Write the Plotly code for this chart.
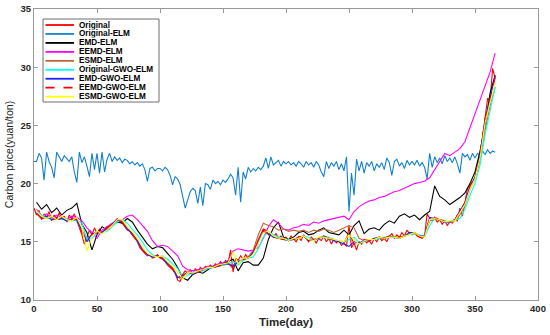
import plotly.graph_objects as go

# ---------------- data ----------------
days_2 = list(range(0, 368, 2))      # every 2nd day, 0..366
days_4 = list(range(2, 368, 4))      # every 4th day, 2..366

original = [
    17.9, 17.3, 17.7, 16.9, 17.4, 17.1, 17.6, 16.8, 17.3, 17.0,
    17.5, 16.9, 17.2, 16.7, 17.3, 17.0, 17.4, 16.8, 16.2, 15.6,
    14.8, 15.4, 16.0, 15.6, 16.2, 15.7, 16.1, 15.8, 16.0, 16.3,
    16.1, 16.5, 16.8, 17.0, 16.7, 16.6, 16.3, 16.0, 15.9, 15.6,
    15.2, 15.0, 14.5, 14.2, 14.0, 13.8, 13.9, 13.6, 13.7, 13.9,
    13.6, 13.5, 13.3, 13.0, 12.8, 12.6, 12.3, 11.7, 11.6, 12.2,
    12.5, 12.3, 12.6, 12.2, 12.7, 12.4, 12.8, 12.6, 12.9, 12.7,
    13.0, 12.8, 13.1, 12.9, 13.3, 13.0, 13.4, 13.1, 14.3, 12.4,
    13.6, 13.4, 13.8, 13.5, 13.9, 13.6, 13.8, 14.2, 14.6, 15.2,
    15.7, 16.1, 16.0, 15.6, 15.8, 15.4, 15.7, 15.3, 15.5, 15.2,
    15.4, 15.1, 15.5, 15.2, 15.0, 15.4, 15.1, 15.6, 15.3, 15.0,
    15.4, 15.2, 14.9, 15.3, 15.1, 15.5, 15.0, 15.3, 14.8, 15.2,
    14.9, 15.1, 14.7, 14.9, 14.6, 16.4, 14.5, 14.9, 14.3, 15.0,
    14.8, 15.2, 14.9, 15.1, 14.8, 15.3, 15.0, 15.4, 15.1, 15.3,
    15.0, 15.5, 15.7, 15.3, 15.6, 15.4, 15.8, 15.5, 16.0, 15.7,
    15.6, 15.8, 15.5, 15.4, 15.3, 15.5, 17.4, 17.0, 16.8, 17.1,
    16.7, 16.9, 16.5, 16.8, 16.4, 16.7, 16.6, 16.9, 16.8, 17.9,
    17.2, 18.3, 19.6, 19.9, 20.1, 20.6, 21.5, 22.6, 24.0, 25.8,
    27.3, 27.2, 29.9, 29.0,
]

original_elm = [
    21.9, 21.9, 22.6, 22.2, 20.3, 22.7, 21.9, 21.4, 20.5, 22.7,
    22.3, 21.9, 22.4, 22.1, 21.9, 22.3, 21.0, 20.1, 22.7, 21.8,
    22.3, 21.5, 20.6, 22.6, 21.2, 22.6, 20.9, 22.7, 21.0, 22.1,
    22.6, 21.9, 22.3, 22.0, 22.2, 21.8, 22.1, 22.0, 21.7, 21.9,
    21.6, 21.8, 21.5, 21.7, 21.2, 20.2, 21.3, 21.4, 21.1, 21.3,
    21.3, 21.1, 21.4, 21.2, 20.7, 19.9, 20.6, 20.4, 19.9, 18.9,
    17.9, 18.6, 19.3, 19.6, 19.4, 18.3, 19.7, 18.1, 20.0, 19.9,
    19.5, 20.3, 20.0, 20.2, 19.9, 20.3, 20.1, 20.4, 20.8, 20.5,
    19.0, 21.4, 18.4, 21.0, 20.4, 21.4, 21.0, 21.3, 21.1, 21.4,
    21.2, 21.5, 22.2, 21.3, 22.3, 21.6, 21.8, 22.0, 21.5, 21.9,
    21.7, 21.9, 21.6, 21.8, 21.5, 21.9, 21.7, 21.4, 21.9, 21.6,
    21.8, 21.4, 21.9, 21.6, 21.0, 20.6, 21.9, 21.3, 21.8, 21.5,
    21.9, 21.2, 21.7, 21.1, 22.3, 17.6, 20.9, 19.0, 22.1, 21.1,
    21.9, 20.9, 21.8, 21.5, 21.9, 21.1, 21.7, 21.4, 21.8, 21.2,
    22.2, 21.8, 20.7, 21.9, 22.1, 21.5, 21.8, 21.3, 22.0, 21.6,
    21.9, 21.6, 22.0, 21.5, 21.8, 21.4, 20.4, 22.6, 21.4, 22.3,
    21.8, 22.2, 21.7, 22.4, 21.9, 22.2, 21.8, 22.3, 21.7, 20.9,
    22.6, 22.3, 22.5, 22.0, 22.6, 22.2, 22.6, 22.4, 22.8, 22.5,
    22.9, 22.6, 22.8, 22.7,
]

emd_elm = [
    18.4, 17.8, 18.2, 17.5, 17.9, 17.3, 17.7, 17.9, 18.3, 16.5,
    15.8, 14.3, 15.6, 16.3, 16.0, 16.4, 16.7, 16.6, 17.0, 16.7,
    16.0, 15.4, 14.8, 14.4, 14.6, 14.5, 14.0, 13.5, 12.8, 11.9,
    11.7, 12.2, 12.4, 12.3, 12.6, 12.9, 13.0, 13.1, 13.3, 13.5,
    12.5, 13.2, 13.3, 13.0, 13.0, 13.6, 15.2, 16.2, 16.7, 15.4,
    15.2, 15.4, 15.8, 15.9, 15.6, 15.7, 16.0, 16.2, 15.8, 15.7,
    15.6, 16.0, 15.6, 16.4, 16.8, 15.7, 16.1, 16.2, 16.0, 16.5,
    16.8, 16.6, 17.2, 17.4, 17.1, 17.3, 16.9, 17.3, 17.6, 19.8,
    18.9, 18.6, 18.2, 18.5, 18.8, 19.2, 20.0, 21.0, 22.8, 25.0,
    27.8, 29.3,
]

eemd_elm = [
    17.8, 17.2, 17.4, 17.0, 17.3, 17.1, 16.9, 17.2, 17.1, 16.8,
    16.2, 15.8, 15.3, 16.0, 16.3, 16.6, 16.8, 16.9, 17.2, 17.3,
    16.9, 16.4, 15.9, 15.1, 14.6, 14.7, 14.6, 14.2, 13.8, 12.9,
    12.6, 12.5, 12.6, 12.7, 12.9, 12.9, 13.1, 13.2, 13.4, 14.2,
    14.4, 14.3, 14.2, 14.3, 14.5, 15.3, 16.3, 16.9, 16.6, 16.1,
    16.0, 16.2, 16.3, 16.5, 16.4, 16.7, 16.6, 16.8, 16.9, 17.0,
    17.1, 17.2, 16.9, 17.6, 18.0, 18.3, 18.5, 18.6, 18.8, 18.9,
    19.1, 19.3, 19.4, 19.6, 19.8, 20.0, 20.1, 20.2, 20.5, 21.2,
    21.9, 22.6, 22.4, 22.7, 23.0, 23.6, 24.8, 26.0, 27.2, 28.3,
    29.6, 31.2,
]

esmd_elm = [
    17.5, 17.1, 17.0, 17.0, 16.9, 17.0, 16.8, 16.9, 16.9, 16.0,
    15.2, 15.6, 15.9, 15.8, 16.1, 16.4, 16.9, 16.8, 16.2, 15.7,
    15.1, 14.4, 13.9, 13.7, 13.8, 13.6, 13.2, 12.8, 12.0, 12.0,
    12.4, 12.3, 12.4, 12.6, 12.7, 12.8, 13.0, 13.0, 13.1, 13.0,
    13.2, 13.5, 13.7, 14.3, 15.6, 16.6, 16.4, 16.3, 16.0, 16.1,
    15.9, 16.0, 15.9, 16.0, 15.8, 16.0, 15.9, 16.1, 16.0, 15.8,
    16.0, 16.2, 16.4, 16.2, 15.3, 15.1, 15.2, 15.2, 15.4, 15.3,
    15.4, 15.4, 15.4, 15.5, 15.7, 15.7, 15.5, 15.5, 16.8, 16.9,
    16.9, 16.7, 16.7, 16.8, 17.3, 18.1, 19.5, 20.4, 22.0, 24.6,
    26.7, 28.3,
]

original_gwo_elm = [
    17.7, 17.3, 17.1, 17.0, 17.1, 16.9, 17.0, 16.8, 16.9, 16.6,
    15.2, 15.3, 15.8, 15.8, 15.9, 16.3, 16.7, 16.9, 16.6, 16.1,
    15.6, 15.0, 14.3, 13.9, 13.7, 13.8, 13.5, 13.1, 12.7, 12.0,
    12.1, 12.4, 12.4, 12.5, 12.7, 12.8, 12.9, 13.0, 13.1, 13.3,
    13.0, 13.4, 13.6, 13.7, 14.4, 15.4, 15.9, 15.6, 15.4, 15.3,
    15.2, 15.2, 15.3, 15.5, 15.4, 15.1, 15.3, 15.4, 15.4, 15.2,
    15.1, 15.0, 15.2, 15.4, 14.9, 15.0, 15.2, 15.2, 15.3, 15.4,
    15.4, 15.4, 15.3, 15.5, 15.6, 15.7, 15.6, 15.4, 16.4, 17.0,
    16.9, 16.8, 16.7, 16.8, 17.0, 17.8, 19.0, 20.0, 21.6, 24.2,
    26.4, 28.3,
]

emd_gwo_elm = [
    17.5, 17.0, 17.2, 16.9, 17.0, 17.0, 16.8, 16.9, 16.9, 15.9,
    15.0, 15.7, 15.8, 15.8, 16.2, 16.5, 16.9, 16.7, 16.1, 15.7,
    15.1, 14.3, 13.9, 13.7, 13.8, 13.6, 13.1, 12.7, 11.9, 12.1,
    12.4, 12.2, 12.4, 12.6, 12.8, 12.8, 12.9, 13.1, 13.1, 12.9,
    13.3, 13.5, 13.6, 14.1, 15.0, 15.9, 15.7, 15.4, 15.3, 15.2,
    15.1, 15.2, 15.4, 15.5, 15.1, 15.2, 15.3, 15.5, 15.3, 15.1,
    15.0, 14.8, 14.6, 15.0, 14.9, 15.1, 15.1, 15.3, 15.4, 15.3,
    15.5, 15.4, 15.3, 15.5, 15.8, 15.8, 15.5, 15.5, 17.1, 17.0,
    16.9, 16.7, 16.7, 16.9, 17.6, 18.4, 19.8, 20.5, 22.4, 25.5,
    27.3, 29.3,
]

eemd_gwo_elm = [
    17.4, 17.0, 17.0, 16.9, 17.1, 16.8, 16.8, 17.0, 16.9, 15.8,
    15.2, 15.6, 15.8, 15.7, 16.2, 16.5, 17.0, 16.7, 16.1, 15.6,
    15.1, 14.3, 13.8, 13.7, 13.8, 13.6, 13.1, 12.7, 11.8, 12.1,
    12.3, 12.3, 12.4, 12.6, 12.7, 12.8, 12.9, 13.0, 13.2, 12.7,
    13.3, 13.5, 13.6, 14.1, 15.1, 16.0, 15.7, 15.4, 15.3, 15.2,
    15.1, 15.2, 15.4, 15.5, 15.1, 15.2, 15.3, 15.5, 15.3, 15.2,
    15.1, 14.9, 15.8, 14.8, 15.0, 15.2, 15.1, 15.3, 15.4, 15.3,
    15.5, 15.3, 15.4, 15.5, 15.7, 15.8, 15.4, 15.5, 17.0, 17.1,
    16.9, 16.8, 16.7, 16.9, 17.7, 18.3, 19.8, 20.6, 22.5, 25.6,
    27.2, 29.1,
]

esmd_gwo_elm = [
    17.6, 17.2, 17.0, 17.2, 16.9, 17.2, 16.9, 16.8, 17.1, 16.2,
    14.2, 15.5, 15.9, 15.7, 16.0, 16.4, 16.9, 16.9, 16.3, 15.9,
    15.3, 14.6, 14.0, 13.8, 13.7, 13.8, 13.3, 12.9, 12.4, 11.8,
    12.4, 12.3, 12.5, 12.6, 12.8, 12.8, 13.0, 13.1, 13.2, 14.1,
    13.1, 13.6, 13.6, 13.9, 14.8, 15.8, 15.9, 15.5, 15.3, 15.3,
    15.1, 15.3, 15.3, 15.5, 15.2, 15.1, 15.4, 15.4, 15.3, 15.2,
    15.1, 15.0, 15.6, 15.2, 14.8, 15.1, 15.2, 15.2, 15.4, 15.3,
    15.4, 15.4, 15.3, 15.5, 15.6, 15.8, 15.5, 15.4, 16.9, 17.0,
    16.9, 16.7, 16.8, 16.8, 17.5, 18.2, 19.5, 20.4, 22.2, 25.2,
    27.0, 28.6,
]

names = ["Original", "Original-ELM", "EMD-ELM", "EEMD-ELM", "ESMD-ELM",
         "Original-GWO-ELM", "EMD-GWO-ELM", "EEMD-GWO-ELM", "ESMD-GWO-ELM"]
xs = [days_2, days_2, days_4, days_4, days_4, days_4, days_4, days_4, days_4]
ys = [original, original_elm, emd_elm, eemd_elm, esmd_elm,
      original_gwo_elm, emd_gwo_elm, eemd_gwo_elm, esmd_gwo_elm]
colors = ["#ff0000", "#1380cf", "#000000", "#ff00ff", "#c0663a",
          "#00ffff", "#2020ff", "#ff0000", "#ffff00"]
dashes = ["solid", "solid", "solid", "solid", "solid",
          "solid", "solid", "dash", "solid"]

x_ticks = [0, 50, 100, 150, 200, 250, 300, 350, 400]
y_ticks = [10, 15, 20, 25, 30, 35]

# ---------------- figure ----------------
FONT = "Arial, 'Liberation Sans', Helvetica, sans-serif"
W, H = 550, 335
L, R, T, B = 34, 538, 9, 300   # plot area in pixels

fig = go.Figure()
for n, x, y, c, d in zip(names, xs, ys, colors, dashes):
    fig.add_trace(go.Scatter(x=x, y=y, mode="lines", name=n, showlegend=False,
                             hoverinfo="skip",
                             line=dict(color=c, width=1.1, dash=d)))

def fx(p):
    return (p - L) / (R - L)

def fy(p):
    return (B - p) / (B - T)

# legend drawn as a MATLAB-style box
shapes = [dict(type="rect", xref="paper", yref="paper", layer="above",
               x0=fx(43), x1=fx(159), y0=fy(102), y1=fy(19),
               line=dict(color="#6e6e6e", width=1), fillcolor="white")]
annotations = []
for i, (n, c, d) in enumerate(zip(names, colors, dashes)):
    yc = 25 + i * 8.96
    shapes.append(dict(type="line", xref="paper", yref="paper", layer="above",
                       x0=fx(45.5), x1=fx(74), y0=fy(yc), y1=fy(yc),
                       line=dict(color=c, width=1.8, dash=d)))
    annotations.append(dict(xref="paper", yref="paper", x=fx(77.5), y=fy(yc),
                            xanchor="left", yanchor="middle", showarrow=False,
                            height=8.5, borderpad=0, valign="middle",
                            text=n, font=dict(family=FONT, size=8.2, color="#000",
                                              weight="bold")))

axis_common = dict(showline=True, linecolor="#9a9a9a", linewidth=1,
                   mirror="ticks", ticks="inside", ticklen=4, tickcolor="#9a9a9a",
                   showgrid=False, zeroline=False, automargin=False,
                   tickfont=dict(family=FONT, size=9.5, color="#262626", weight="bold"))

fig.update_layout(
    width=W, height=H,
    margin=dict(l=L, r=W - R, t=T, b=H - B, pad=0),
    paper_bgcolor="white", plot_bgcolor="white",
    showlegend=False, hovermode=False,
    shapes=shapes, annotations=annotations,
    xaxis=dict(range=[0, 400], tickvals=x_ticks, **axis_common,
               title=dict(text="Time(day)", standoff=4,
                          font=dict(family=FONT, size=11.5, color="#262626", weight="bold"))),
    yaxis=dict(range=[10, 35], tickvals=y_ticks, **axis_common,
               title=dict(text="Carbon price(yuan/ton)", standoff=4,
                          font=dict(family=FONT, size=10.5, color="#262626"))),
)

fig.write_html("out.html",
               config={"displayModeBar": False, "staticPlot": True},
               post_script="document.body.style.margin='0';document.body.style.overflow='hidden';")
